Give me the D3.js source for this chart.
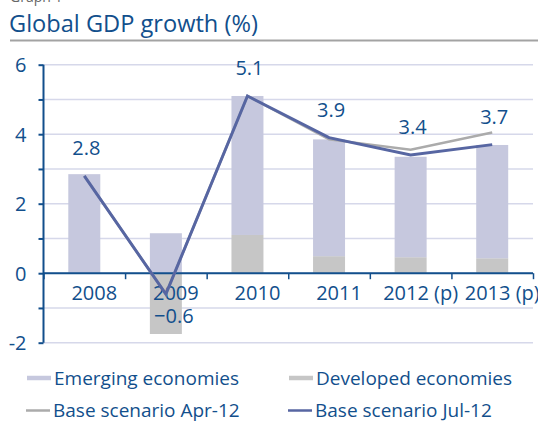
<!DOCTYPE html>
<html>
<head>
<meta charset="utf-8">
<script src="https://cdn.jsdelivr.net/npm/d3@7"></script>
<style>
  html, body { margin: 0; padding: 0; background: #fff; }
  svg { display: block; font-family: "Open Sans", sans-serif; }
</style>
</head>
<body>
<svg id="chart" width="538" height="424"></svg>
<script>
// data
const years = ["2008", "2009", "2010", "2011", "2012 (p)", "2013 (p)"];
const emerging = [2.85, 1.15, 4.0, 3.36, 2.89, 3.26];
const developed = [0, -1.75, 1.1, 0.49, 0.46, 0.43];
const baseApr = [2.8, -0.6, 5.1, 3.85, 3.55, 4.05];
const baseJul = [2.8, -0.6, 5.1, 3.9, 3.4, 3.7];
const yTicks = [-2, -1, 0, 1, 2, 3, 4, 5, 6];

const blue = "#124f8c";
const colEmerging = "#c6c8de";
const colDeveloped = "#c6c6c6";
const colApr = "#ababab";
const colJul = "#5766a2";
const colGrid = "#d6d8ea";

const svg = d3.select("#chart");

// header (the top line is cut off in the original too)
svg.append("text").attr("x", 10).attr("y", 2)
  .attr("font-size", 14).attr("fill", "#666").text("Graph 1");
svg.append("text").attr("x", 9).attr("y", 32)
  .attr("font-size", 23.6).attr("fill", blue).text("Global GDP growth (%)");
svg.append("line").attr("x1", 10).attr("x2", 538).attr("y1", 40.5).attr("y2", 40.5)
  .attr("stroke", "#a3a3a3").attr("stroke-width", 2);

const x = d3.scaleBand().domain(years).range([43.5, 533]).padding(0);
const y = d3.scaleLinear().domain([-2, 6]).range([342.7, 64.7]);
const barW = 32;
const cx = d => x(d) + x.bandwidth() / 2;

// gridlines
svg.append("g").selectAll("line").data(yTicks).join("line")
  .attr("x1", 43.5).attr("x2", 533)
  .attr("y1", d => y(d)).attr("y2", d => y(d))
  .attr("stroke", colGrid).attr("stroke-width", 1.5);

// stacked bars
const rows = years.map((yr, i) => ({ year: yr, developed: developed[i], emerging: emerging[i] }));
const stack = d3.stack().keys(["developed", "emerging"]).offset(d3.stackOffsetDiverging)(rows);
const fills = { developed: colDeveloped, emerging: colEmerging };

svg.append("g").selectAll("g").data(stack).join("g")
  .attr("fill", s => fills[s.key])
  .selectAll("rect").data(s => s).join("rect")
  .attr("x", d => cx(d.data.year) - barW / 2)
  .attr("width", barW)
  .attr("y", d => y(Math.max(d[0], d[1])))
  .attr("height", d => Math.abs(y(d[0]) - y(d[1])));

// y axis
const yAxis = svg.append("g").attr("transform", "translate(43.5,0)")
  .call(d3.axisLeft(y).tickValues(yTicks).tickSize(5).tickPadding(12)
    .tickFormat(d => d % 2 === 0 ? d : ""));
yAxis.select(".domain").attr("stroke", blue).attr("stroke-width", 2).attr("d", `M0,${y(6)}V${y(-2)}`);
yAxis.selectAll(".tick line").attr("stroke", blue).attr("stroke-width", 2);
yAxis.selectAll(".tick text").attr("fill", blue).attr("font-size", 20)
  .attr("font-family", "Open Sans").attr("dy", "0.36em");

// x axis at zero, ticks at band edges
const edge = d3.scaleLinear().domain([0, years.length]).range(x.range());
const xAxis = svg.append("g").attr("transform", `translate(0,${y(0)})`)
  .call(d3.axisBottom(edge).ticks(years.length).tickSize(6).tickFormat(() => ""));
xAxis.select(".domain").attr("stroke", blue).attr("stroke-width", 2).attr("d", `M43.5,0H533`);
xAxis.selectAll(".tick line").attr("stroke", blue).attr("stroke-width", 1.5);

svg.append("g").selectAll("text").data(years).join("text")
  .attr("x", d => cx(d) + 10).attr("y", 300)
  .attr("text-anchor", "middle").attr("font-size", 20).attr("fill", blue)
  .text(d => d);

// lines
const line = d3.line().x((d, i) => cx(years[i])).y(d => y(d));
svg.append("path").datum(baseApr).attr("d", line)
  .attr("fill", "none").attr("stroke", colApr).attr("stroke-width", 2.5);
svg.append("path").datum(baseJul).attr("d", line)
  .attr("fill", "none").attr("stroke", colJul).attr("stroke-width", 3);

// value labels
svg.append("g").selectAll("text").data(baseJul).join("text")
  .attr("x", (d, i) => cx(years[i]) + (d < 0 ? 8 : 2))
  .attr("y", d => d < 0 ? y(d) + 29 : y(d) - 21)
  .attr("text-anchor", "middle").attr("font-size", 20).attr("fill", blue)
  .text(d => d3.format(".1f")(d));

// legend
const legend = [
  { name: "Emerging economies", color: colEmerging, w: 4.5, x: 27, y: 378 },
  { name: "Developed economies", color: colDeveloped, w: 4.5, x: 289, y: 378 },
  { name: "Base scenario Apr-12", color: colApr, w: 2.5, x: 26, y: 410.5 },
  { name: "Base scenario Jul-12", color: colJul, w: 2.5, x: 288, y: 410.5 }
];
const lg = svg.append("g").selectAll("g").data(legend).join("g")
  .attr("transform", d => `translate(${d.x},${d.y})`);
lg.append("line").attr("x1", 0).attr("x2", 24)
  .attr("stroke", d => d.color).attr("stroke-width", d => d.w);
lg.append("text").attr("x", 27).attr("y", 6.5)
  .attr("font-size", 19).attr("fill", blue).text(d => d.name);
</script>
</body>
</html>
